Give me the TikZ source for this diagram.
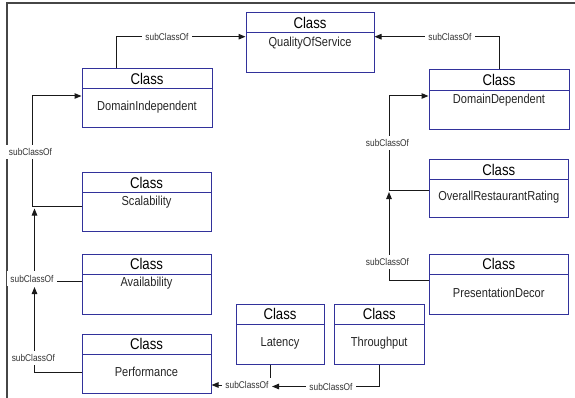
\documentclass[tikz,border=0pt]{standalone}
\usepackage{fontspec}
\setmainfont{Liberation Sans}[FakeStretch=0.85]
\usetikzlibrary{arrows.meta,fit}
\definecolor{boxblue}{RGB}{50,50,155}
\definecolor{framegray}{RGB}{70,70,70}
\newcommand\ClassBox[8]{%
  \coordinate (#1-nw) at (#2,#3);
  \coordinate (#1-se) at (#4,#5);
  \node[box, fit=(#1-nw)(#1-se)] (#1) {};
  \draw[boxline] (#2,#6) -- (#4,#6);
  \node[cls] (#1-h) at ({(#2+#4)/2},{(#3+#6)/2}) {Class};
  \node[nm] (#1-n) at ({(#2+#4)/2},#8) {#7};
}
\begin{document}
\begin{tikzpicture}[x=1pt,y=-1pt,
  box/.style={draw=boxblue, line width=1pt, inner sep=0pt},
  boxline/.style={draw=boxblue, line width=1pt},
  cls/.style={inner sep=0pt, font=\fontsize{15.5}{16}\selectfont},
  nm/.style={inner sep=0pt, font=\fontsize{13}{14}\selectfont, text=black!85},
  conn/.style={draw=black!90, line width=1pt},
  arr/.style={conn, -{Triangle[length=7pt,width=5.5pt]}},
  lab/.style={fill=white, inner xsep=3.5pt, inner ysep=3.5pt, font=\fontsize{9.8}{10}\selectfont, text=black!80}]
\useasboundingbox (0,0) rectangle (575,398);
\fill[white] (0,0) rectangle (575,398);
\draw[framegray, line width=1.5pt] (575,3) -- (7,3) -- (7,398);

\ClassBox{qos}{246}{13}{374}{73}{32.5}{QualityOfService}{43}
\ClassBox{di}{82}{69}{212}{128}{89}{DomainIndependent}{107}
\ClassBox{dd}{429}{70}{569}{130}{90.5}{DomainDependent}{100}
\ClassBox{sc}{82}{173}{211}{231}{192}{Scalability}{202}
\ClassBox{av}{82}{254}{211}{314}{274}{Availability}{283}
\ClassBox{pf}{82}{334}{211}{393.5}{354.5}{Performance}{372}
\ClassBox{lat}{236}{304}{324}{364}{324}{Latency}{343}
\ClassBox{thr}{334.5}{304}{424}{364}{324}{Throughput}{343}
\ClassBox{orr}{429}{160}{568.5}{217}{179.5}{OverallRestaurantRating}{197.5}
\ClassBox{pd}{429}{254}{568.5}{314}{274}{PresentationDecor}{292.5}

% connectors
\draw[arr] (di.north -| 116.7,0) |- (qos.west |- 0,36.7);
\draw[arr] (dd.north -| 499.3,0) |- (qos.east |- 0,36.7);
\draw[arr] (sc.west |- 0,206.7) -| (32.7,96) -- (di.west |- 0,96);
\draw[arr] (av.west |- 0,281) -| (34.5,208.5);
\draw[arr] (pf.west |- 0,372.3) -| (34.5,287);
\draw[arr] (orr.west |- 0,190) -| (389,96) -- (dd.west |- 0,96);
\draw[arr] (pd.west |- 0,280) -| (389,192);
\draw[arr] (lat.south -| 270,0) |- (pf.east |- 0,385);
\draw[arr] (thr.south -| 379,0) |- (272,386.5);

% labels
\node[lab] (l1) at (167,36.7) {subClassOf};
\node[lab] (l2) at (450,36.7) {subClassOf};
\node[lab] (l3) at (30.5,151.7) {subClassOf};
\node[lab] (l4) at (32,278.5) {subClassOf};
\node[lab] (l5) at (33.3,358) {subClassOf};
\node[lab] (l6) at (387.5,142.7) {subClassOf};
\node[lab] (l7) at (387.5,261.7) {subClassOf};
\node[lab] (l8) at (247,385) {subClassOf};
\node[lab] (l9) at (331,386.5) {subClassOf};
\end{tikzpicture}
\end{document}
